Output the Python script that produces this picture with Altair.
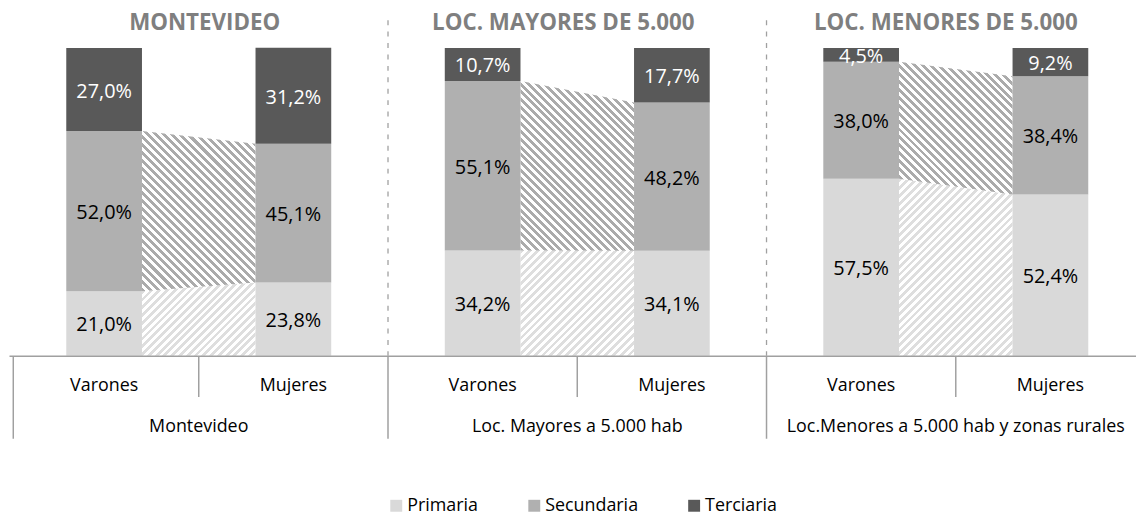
import altair as alt
import pandas as pd

# ---------------- data ----------------
grupos = ["Montevideo", "Loc. Mayores a 5.000 hab", "Loc.Menores a 5.000 hab y zonas rurales"]
titulos = ["MONTEVIDEO", "LOC. MAYORES DE 5.000", "LOC. MENORES DE 5.000"]
sexos = ["Varones", "Mujeres"]
series = ["Primaria", "Secundaria", "Terciaria"]
# order: Mvd V, Mvd M, May V, May M, Men V, Men M
primaria = [21.0, 23.8, 34.2, 34.1, 57.5, 52.4]
secundaria = [52.0, 45.1, 55.1, 48.2, 38.0, 38.4]
terciaria = [27.0, 31.2, 10.7, 17.7, 4.5, 9.2]

# ---------------- style / layout ----------------
colores = ["#d9d9d9", "#b0b0b0", "#595959"]
FONT = "Open Sans"
W_PLOT = 1134.5
H_PLOT = 310
SLOT_PX = 190.6
DMAX = W_PLOT / SLOT_PX
PCT_PX = H_PLOT / 100.0
HALF = 0.2  # half bar width in slot units
AXIS_C = "#a0a0a0"

valores = [primaria, secundaria, terciaria]

# bars
rows = []
for i in range(6):
    base = 0.0
    for s, serie in enumerate(series):
        v = valores[s][i]
        rows.append({
            "slot": i, "serie": serie, "x0": i + 0.5 - HALF, "x1": i + 0.5 + HALF,
            "xc": i + 0.5, "y0": base, "y1": base + v, "ym": base + v / 2,
            "label": f"{v:.1f}".replace(".", ",") + "%",
        })
        base += v
bars = pd.DataFrame(rows)


def cum(i, s):
    return sum(valores[k][i] for k in range(s + 1))


def stripes(w, h, direction, line, bg="#ffffff", period=8.0, duty=0.5):
    r = h / w
    k = (1 + r) / (1 + r * r)
    n = max(1, int(round((w + h) / period)))
    stops = []
    for j in range(n):
        a, b, c = j / n, (j + duty) / n, (j + 1) / n
        stops += [{"offset": round(a, 5), "color": line}, {"offset": round(b, 5), "color": line},
                  {"offset": round(b, 5), "color": bg}, {"offset": round(c, 5), "color": bg}]
    if direction == "/":
        return alt.LinearGradient(gradient="linear", x1=0, y1=0, x2=k, y2=r * k, stops=stops)
    return alt.LinearGradient(gradient="linear", x1=0, y1=1, x2=k, y2=1 - r * k, stops=stops)


xscale = alt.Scale(domain=[0, DMAX], nice=False, zero=False)
yscale = alt.Scale(domain=[0, 100], nice=False, zero=False)
base_x = alt.X("x:Q", scale=xscale, axis=None)

band_layers = []
band_style = [("/", "#dedede"), ("\\", "#ababab")]
for g in range(3):
    iv, im = 2 * g, 2 * g + 1
    for s in range(2):
        lo_v = cum(iv, s - 1) if s > 0 else 0.0
        lo_m = cum(im, s - 1) if s > 0 else 0.0
        hi_v, hi_m = cum(iv, s), cum(im, s)
        xa = iv + 0.5 + HALF
        xb = im + 0.5 - HALF
        df = pd.DataFrame({"x": [xa, xb], "lo": [lo_v, lo_m], "hi": [hi_v, hi_m]})
        wpx = (xb - xa) * SLOT_PX
        hpx = (max(hi_v, hi_m) - min(lo_v, lo_m)) * PCT_PX
        grad = stripes(wpx, hpx, band_style[s][0], band_style[s][1])
        band_layers.append(
            alt.Chart(df).mark_area(fill=grad, interpolate="linear").encode(
                x=base_x, y=alt.Y("hi:Q", scale=yscale, axis=None), y2="lo:Q"
            )
        )

# separators (dashed)
sep_df = pd.DataFrame({"x": [2, 4]})
separators = alt.Chart(sep_df).mark_rule(color=AXIS_C, strokeWidth=1.3, strokeDash=[5, 6.5]).encode(
    x=base_x, y=alt.value(-28), y2=alt.value(H_PLOT)
)

bars_chart = alt.Chart(bars).mark_bar(strokeWidth=0).encode(
    x=alt.X("x0:Q", scale=xscale, axis=None), x2="x1:Q",
    y=alt.Y("y0:Q", scale=yscale, axis=None), y2="y1:Q",
    color=alt.Color("serie:N", scale=alt.Scale(domain=series, range=colores),
                    legend=alt.Legend(orient="none", legendX=380.5, legendY=452,
                                      direction="horizontal", title=None,
                                      symbolType="square", symbolSize=144,
                                      symbolStrokeWidth=0, labelFont=FONT,
                                      labelFontSize=18, labelColor="#000000",
                                      columnPadding=47, labelOffset=2, padding=0)),
)

labels_dark = alt.Chart(bars).transform_filter(alt.datum.serie != "Terciaria").mark_text(
    font=FONT, fontSize=20, baseline="alphabetic", dy=8, color="#000000"
).encode(x=alt.X("xc:Q", scale=xscale, axis=None), y=alt.Y("ym:Q", scale=yscale, axis=None), text="label:N")
labels_light = alt.Chart(bars).transform_filter(alt.datum.serie == "Terciaria").mark_text(
    font=FONT, fontSize=20, baseline="alphabetic", dy=8, color="#ffffff"
).encode(x=alt.X("xc:Q", scale=xscale, axis=None), y=alt.Y("ym:Q", scale=yscale, axis=None), text="label:N")

# category axis
baseline = alt.Chart(pd.DataFrame({"x": [0.0, DMAX]})).mark_rule(color=AXIS_C, strokeWidth=1.5).encode(
    x=alt.X("min(x):Q", scale=xscale, axis=None), x2="max(x):Q", y=alt.value(H_PLOT + 0.5)
)
short_ticks = alt.Chart(pd.DataFrame({"x": [1, 3, 5]})).mark_rule(color=AXIS_C, strokeWidth=1.5).encode(
    x=base_x, y=alt.value(H_PLOT + 0.5), y2=alt.value(351.5)
)
long_ticks = alt.Chart(pd.DataFrame({"x": [0.02, 2, 4]})).mark_rule(color=AXIS_C, strokeWidth=1.5).encode(
    x=base_x, y=alt.value(H_PLOT + 0.5), y2=alt.value(393.5)
)

cat_df = pd.DataFrame({"x": [i + 0.5 for i in range(6)], "t": [sexos[i % 2] for i in range(6)]})
cat_labels = alt.Chart(cat_df).mark_text(font=FONT, fontSize=18, baseline="alphabetic", color="#000000").encode(
    x=base_x, y=alt.value(345), text="t:N"
)
grp_df = pd.DataFrame({"x": [2 * g + 1 for g in range(3)], "t": grupos})
grp_labels = alt.Chart(grp_df).mark_text(font=FONT, fontSize=18, baseline="alphabetic", color="#000000").encode(
    x=base_x, y=alt.value(386.5), text="t:N"
)

title_dx = [6, -14, -10]
title_layers = []
for g in range(3):
    tdf = pd.DataFrame({"x": [2 * g + 1], "t": [titulos[g]]})
    title_layers.append(
        alt.Chart(tdf).mark_text(font=FONT, fontSize=22.5, fontWeight="bold", color="#7f7f7f",
                                 baseline="alphabetic", dx=title_dx[g]).encode(
            x=base_x, y=alt.value(-18.5), text="t:N"
        )
    )

chart = alt.layer(
    separators, *band_layers, bars_chart, labels_dark, labels_light, baseline, short_ticks, long_ticks,
    cat_labels, grp_labels, *title_layers
).properties(
    width=W_PLOT, height=H_PLOT,
    padding={"left": 1.5, "top": 38.5, "right": 0, "bottom": 156.5},
    autosize=alt.AutoSizeParams(type="none"),
    background="#ffffff",
).configure_view(stroke=None)

chart.save("out.html", embed_options={"renderer": "svg", "actions": False})
